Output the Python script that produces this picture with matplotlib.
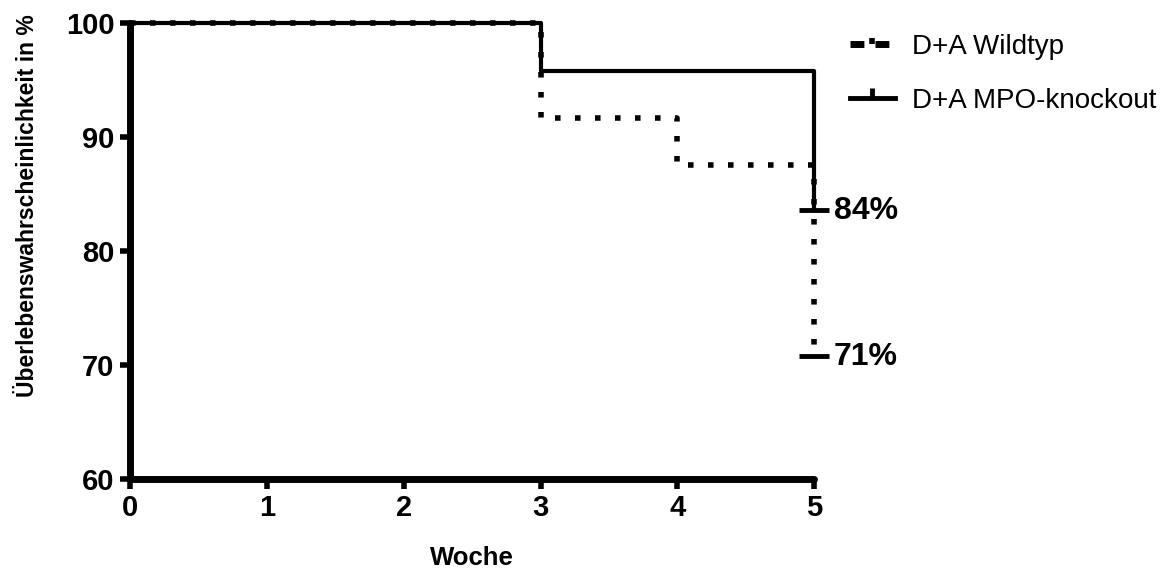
import matplotlib
matplotlib.use('Agg')
import matplotlib.pyplot as plt
from matplotlib.lines import Line2D

# Kaplan-Meier steps (Woche, Überlebenswahrscheinlichkeit in %)
wt_weeks = [0, 3, 4, 5]
wt_surv = [100, 91.7, 87.5, 70.8]
ko_weeks = [0, 3, 5]
ko_surv = [100, 95.8, 83.6]
end_labels = ['84%', '71%']
legend_labels = ['D+A Wildtyp', 'D+A MPO-knockout']

arial = ['Liberation Sans', 'DejaVu Sans']

fig = plt.figure(figsize=(11.7, 5.71), dpi=100)
ax = fig.add_axes([0.111, 0.161, 0.585, 0.799])

ax.plot(ko_weeks, ko_surv, drawstyle='steps-post', color='black', lw=3,
        solid_capstyle='butt', clip_on=False, zorder=3)
ax.plot(wt_weeks, wt_surv, drawstyle='steps-post', color='black', lw=4,
        dashes=(1, 2.6), dash_capstyle='butt', clip_on=False, zorder=4)

# end marks at the last time point
ax.plot([ko_weeks[-1]], [ko_surv[-1]], marker='_', ms=22, mew=3.5, color='black',
        clip_on=False, zorder=5)
ax.plot([wt_weeks[-1]], [wt_surv[-1]], marker='_', ms=22, mew=3.5, color='black',
        clip_on=False, zorder=5)
ax.annotate(end_labels[0], (ko_weeks[-1], ko_surv[-1]), xytext=(14, -1),
            textcoords='offset points', va='center', ha='left',
            fontsize=23, fontweight='bold', family=arial)
ax.annotate(end_labels[1], (wt_weeks[-1], wt_surv[-1]), xytext=(14, -1),
            textcoords='offset points', va='center', ha='left',
            fontsize=23, fontweight='bold', family=arial)

ax.set_xlim(0, 5)
ax.set_ylim(60, 100)
ax.set_xticks(range(0, 6))
ax.set_yticks(range(60, 101, 10))

for side in ['top', 'right']:
    ax.spines[side].set_visible(False)
for side in ['left', 'bottom']:
    ax.spines[side].set_linewidth(5)
    ax.spines[side].set_capstyle('round')
ax.tick_params(width=4, length=7, direction='out', pad=4)
for lab in ax.get_xticklabels() + ax.get_yticklabels():
    lab.set_family(arial)
    lab.set_fontweight('bold')
    lab.set_fontsize(21)

ax.set_xlabel('Woche', family=arial, fontweight='bold', fontsize=18.5, labelpad=17)
ax.set_ylabel('Überlebenswahrscheinlichkeit in %', family=arial,
              fontweight='bold', fontsize=16.5)
ax.yaxis.set_label_coords(-0.133, 0.60)

handles = [
    Line2D([], [], color='black', lw=5, dashes=(2.0, 1.6), marker=2, ms=4, mew=4),
    Line2D([], [], color='black', lw=3.5, marker=2, ms=7, mew=3.5),
]
fig.legend(handles, legend_labels, loc='upper left', bbox_to_anchor=(0.705, 0.985),
           frameon=False, prop={'family': arial, 'size': 20}, handlelength=1.62,
           handletextpad=0.6, labelspacing=1.03)

fig.savefig('out.png', dpi=100)
